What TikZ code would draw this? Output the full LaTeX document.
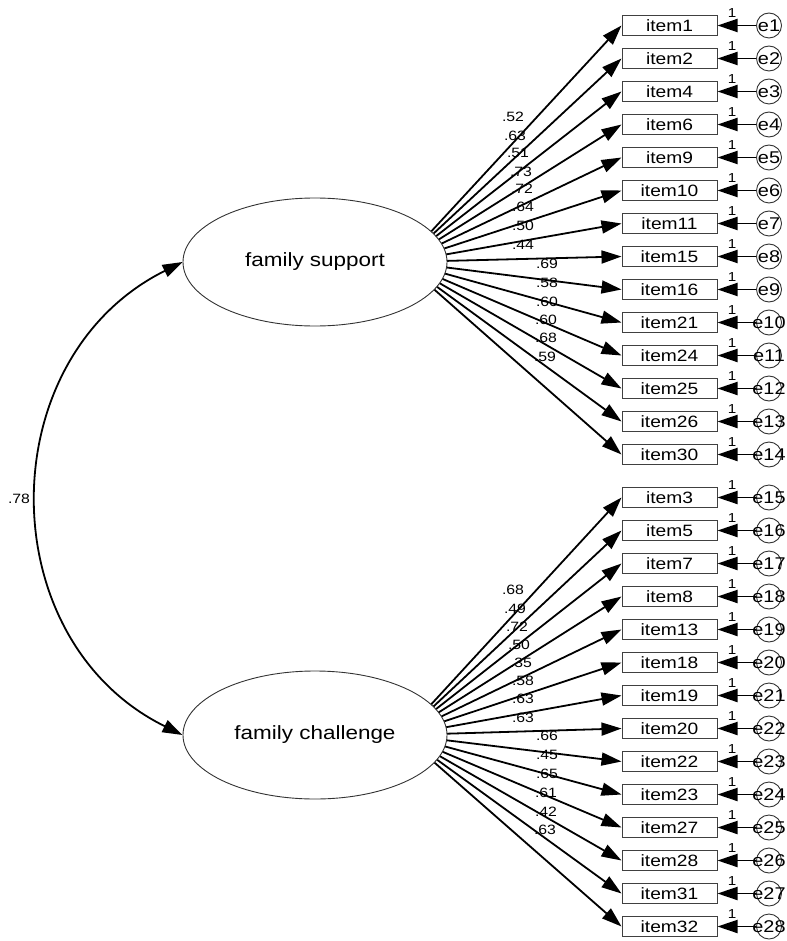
\documentclass[tikz,border=0pt]{standalone}
\usepackage{fontspec}
\setmainfont{Liberation Sans}[FakeStretch=1.17]
\usetikzlibrary{arrows.meta,shapes.geometric}
\begin{document}
\begin{tikzpicture}[x=1pt,y=-1pt,
  latent/.style={ellipse,draw=black!80,line width=0.9pt,fill=white,minimum width=264pt,minimum height=128pt,inner sep=0pt,font=\fontsize{19.2}{22}\selectfont},
  itembox/.style={rectangle,draw=black!75,line width=1pt,fill=white,minimum width=95pt,minimum height=20pt,inner sep=0pt,font=\fontsize{16.4}{18}\selectfont},
  errc/.style={circle,draw=black!80,line width=0.9pt,minimum size=25pt,inner sep=0pt},
  errtxt/.style={font=\fontsize{17}{18}\selectfont,inner sep=0pt},
  coef/.style={font=\fontsize{13.5}{14}\selectfont,inner sep=0pt},
  onelab/.style={font=\fontsize{13}{14}\selectfont,inner sep=0pt},
  loadarr/.style={line width=1.8pt,-{Triangle[length=20pt,width=13pt]}},
  errarr/.style={line width=1.9pt,-{Triangle[length=20pt,width=13pt]}},
  covarr/.style={line width=1.8pt,{Triangle[length=20pt,width=13pt]}-{Triangle[length=20pt,width=13pt]}}
]
\useasboundingbox (0,0) rectangle (786,941);

% upper block
\foreach \it/\e/\c/\cx/\cy [count=\k from 0] in {
  1/1/.52/513/117, 2/2/.63/515/136, 4/3/.51/518/153, 6/4/.73/521/172,
  9/5/.72/522/189, 10/6/.64/523/207, 11/7/.50/523/226, 15/8/.44/523/245,
  16/9/.69/547/264, 21/10/.58/547/283, 24/11/.60/547/302, 25/12/.60/546/320,
  26/13/.68/546/338, 30/14/.59/545/357}{
  \pgfmathsetmacro\ry{25.5+33*\k}
  \node[itembox] (i\it) at (669.5,\ry) {item\it};
  \node[errc] (ec\e) at (769,\ry) {};
  \node[errtxt] (et\e) at (ec\e) {e\e};
  \draw[errarr] (ec\e.west) -- (i\it.east);
  \node[onelab] (one\e) at (732,\ry-12.5) {1};
  \node[coef] (c\e) at (\cx,\cy) {\c};
}
% lower block
\foreach \it/\e/\c/\cx/\cy [count=\k from 0] in {
  3/15/.68/513/590, 5/16/.49/515/609, 7/17/.72/517/627, 8/18/.50/519/645,
  13/19/.35/521/663, 18/20/.58/523/681, 19/21/.63/523/699, 20/22/.63/523/718,
  22/23/.66/547/736, 23/24/.45/547/755, 27/25/.65/547/774, 28/26/.61/546/793,
  31/27/.42/546/812, 32/28/.63/545/830}{
  \pgfmathsetmacro\ry{497.5+33*\k}
  \node[itembox] (i\it) at (669.5,\ry) {item\it};
  \node[errc] (ec\e) at (769,\ry) {};
  \node[errtxt] (et\e) at (ec\e) {e\e};
  \draw[errarr] (ec\e.west) -- (i\it.east);
  \node[onelab] (one\e) at (732,\ry-12.5) {1};
  \node[coef] (c\e) at (\cx,\cy) {\c};
}

% loading paths (start inside the ellipses, covered by them)
\coordinate (fsF) at (403,262);
\coordinate (fcF) at (403,735);
\foreach \it in {1,2,4,6,9,10,11,15,16,21,24,25,26,30}
  \draw[loadarr] (fsF) -- (i\it.west);
\foreach \it in {3,5,7,8,13,18,19,20,22,23,27,28,31,32}
  \draw[loadarr] (fcF) -- (i\it.west);

% latent variables
\node[latent] (fs) at (315,262) {family support};
\node[latent] (fc) at (315,735) {family challenge};

% covariance
\draw[covarr] (fs.west) .. controls (-10,358) and (-10,640) .. (fc.west);
\node[coef] (cov) at (19,499) {.78};
\end{tikzpicture}
\end{document}
